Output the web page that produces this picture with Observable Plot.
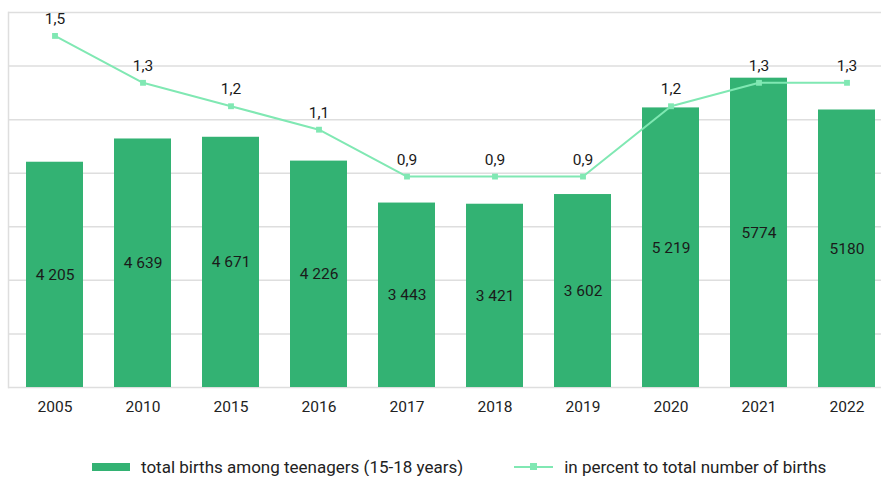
<!DOCTYPE html>
<html>
<head>
<meta charset="utf-8">
<script src="https://cdn.jsdelivr.net/npm/d3@7"></script>
<script src="https://cdn.jsdelivr.net/npm/@observablehq/plot@0.6"></script>
<style>
  body { margin: 0; background: #fff; font-family: Roboto, "Noto Sans", sans-serif; }
  #legend { display: flex; align-items: center; margin-top: 31px; font-size: 17px; color: #222; height: 18px; }
  .sw-bar { display: inline-block; width: 38px; height: 8px; background: #33b273; margin-left: 92px; margin-right: 11px; }
  .sw-line { position: relative; display: inline-block; width: 39px; height: 2px; background: #80e8b3; margin-left: 51px; margin-right: 11px; }
  .sw-line::after { content: ""; position: absolute; left: 16px; top: -3px; width: 7px; height: 7px; background: #80e8b3; }
</style>
</head>
<body>
<div id="chart"></div>
<script>
const years = ["2005", "2010", "2015", "2016", "2017", "2018", "2019", "2020", "2021", "2022"];
const births = [4205, 4639, 4671, 4226, 3443, 3421, 3602, 5219, 5774, 5180];
const birthLabels = ["4 205", "4 639", "4 671", "4 226", "3 443", "3 421", "3 602", "5 219", "5774", "5180"];
const percent = [1.5, 1.3, 1.2, 1.1, 0.9, 0.9, 0.9, 1.2, 1.3, 1.3];
const percentLabels = ["1,5", "1,3", "1,2", "1,1", "0,9", "0,9", "0,9", "1,2", "1,3", "1,3"];
const gridTicks = [0, 1000, 2000, 3000, 4000, 5000, 6000, 7000];
const yMax = 7000;
const pctMax = 1.6;

const data = years.map((y, i) => ({year: y, births: births[i], bl: birthLabels[i], pct: percent[i], pl: percentLabels[i]}));
const toY = p => p * yMax / pctMax;

const chart = Plot.plot({
  width: 881,
  height: 427,
  marginTop: 12,
  marginBottom: 40,
  marginLeft: 8,
  marginRight: 0,
  style: {fontFamily: "Roboto, sans-serif", fontSize: "15.5px", color: "#222", background: "#fff"},
  x: {domain: years, range: [8.3, 891.7], paddingInner: 0.355, paddingOuter: 0.1775, label: null},
  y: {domain: [0, yMax], axis: null},
  marks: [
    Plot.ruleY(gridTicks, {stroke: "#dedede", strokeWidth: 1.5}),
    Plot.frame({anchor: "left", stroke: "#dedede", strokeWidth: 1.5}),
    Plot.barY(data, {x: "year", y: "births", fill: "#33b273"}),
    Plot.text(data, {x: "year", y: d => d.births / 2, text: "bl", fill: "#1a1a1a", fontSize: 15.5}),
    Plot.line(data, {x: "year", y: d => toY(d.pct), stroke: "#80e8b3", strokeWidth: 2}),
    Plot.dot(data, {x: "year", y: d => toY(d.pct), symbol: "square", r: 3.3, fill: "#80e8b3"}),
    Plot.text(data, {x: "year", y: d => toY(d.pct), text: "pl", dy: -17, fill: "#1a1a1a", fontSize: 15.5}),
    Plot.axisX({tickSize: 0, tickPadding: 13, fontSize: 15.5, label: null, color: "#222"})
  ]
});
document.getElementById("chart").appendChild(chart);

const legend = document.createElement("div");
legend.id = "legend";
legend.innerHTML = '<span class="sw-bar"></span><span>total births among teenagers (15-18 years)</span>' +
  '<span class="sw-line"></span><span>in percent to total number of births</span>';
document.body.appendChild(legend);
</script>
</body>
</html>
